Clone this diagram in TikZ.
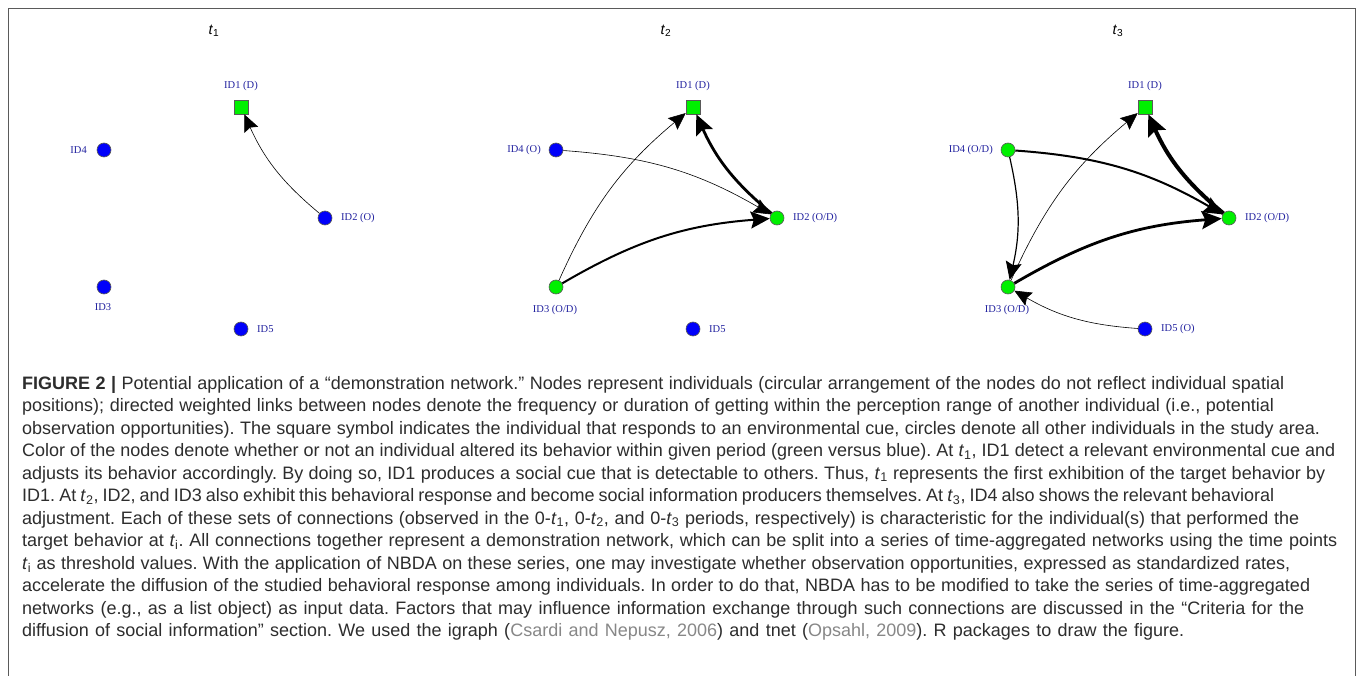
\documentclass[tikz,border=0pt]{standalone}
\usepackage{fontspec}
\setmainfont{Liberation Sans}
\newfontfamily\lblfont{Liberation Serif}
\usetikzlibrary{arrows.meta,positioning,calc}
\definecolor{lblblue}{RGB}{35,35,160}
\definecolor{captxt}{RGB}{45,45,45}
\definecolor{citegray}{RGB}{135,135,135}
\definecolor{ngreen}{RGB}{0,240,0}
\definecolor{nblue}{RGB}{0,0,250}
\definecolor{framegray}{RGB}{90,90,90}
\newcommand{\tsub}[1]{\textit{t}\textsubscript{#1}}
\newcommand{\citeg}[1]{\textcolor{citegray}{#1}}
\newcommand{\capfit}[2]{\makebox[#1pt][s]{#2}}
\frenchspacing
\begin{document}
\begin{tikzpicture}[x=1pt,y=-1pt,
  vc/.style={circle, draw=black!65, line width=0.6pt, minimum size=14pt, inner sep=0pt},
  vb/.style={vc, fill=nblue},
  vg/.style={vc, fill=ngreen},
  vs/.style={rectangle, draw=black!65, line width=0.6pt, minimum size=14pt, inner sep=0pt, fill=ngreen},
  lbl/.style={font=\lblfont\fontsize{10.5}{12}\selectfont, text=lblblue, inner sep=0pt},
  ttl/.style={font=\fontsize{14.5}{16}\selectfont, inner sep=0pt},
  edge/.style={draw=black, bend left=13},
  w1/.style={edge, line width=0.6pt, -{Stealth[length=17pt,width=15pt,inset=2.5pt]}},
  w2/.style={edge, line width=1.2pt, -{Stealth[length=18pt,width=16pt,inset=3pt]}},
  w3/.style={edge, line width=2pt, -{Stealth[length=19pt,width=17pt,inset=3pt]}},
  w4/.style={edge, line width=2.8pt, -{Stealth[length=20pt,width=18pt,inset=3.5pt]}},
  w5/.style={edge, line width=4pt, -{Stealth[length=21pt,width=19pt,inset=3.5pt]}},
  capl/.style={anchor=base west, inner sep=0pt, font=\fontsize{18}{22}\selectfont, text=captxt}
]
\useasboundingbox (0,0) rectangle (1357,676);
\fill[white] (0,0) rectangle (1357,676);
\draw[framegray, line width=1pt] (8,676) -- (8,8.5) -- (1355,8.5) -- (1355,676);

% ---------- panel t1 ----------
\node[ttl] (ta) at (214,31) {\tsub{1}};
\node[vs] (a1) at (241,107) {};
\node[vb] (a2) at (325,218) {};
\node[vb] (a3) at (104,287) {};
\node[vb] (a4) at (104,150) {};
\node[vb] (a5) at (241,329) {};
\node[lbl] (la1) at (241,86) {ID1 (D)};
\node[lbl, anchor=west] (la2) at (341,218) {ID2 (O)};
\node[lbl] (la3) at (103,307) {ID3};
\node[lbl, anchor=east] (la4) at (87,150) {ID4};
\node[lbl, anchor=west] (la5) at (257,329) {ID5};
\draw[w1] (a2) to (a1);

% ---------- panel t2 ----------
\begin{scope}[xshift=452pt]
\node[ttl] (tb) at (214,31) {\tsub{2}};
\node[vs] (b1) at (241,107) {};
\node[vg] (b2) at (325,218) {};
\node[vg] (b3) at (104,287) {};
\node[vb] (b4) at (104,150) {};
\node[vb] (b5) at (241,329) {};
\node[lbl] (lb1) at (241,86) {ID1 (D)};
\node[lbl, anchor=west] (lb2) at (341,218) {ID2 (O/D)};
\node[lbl] (lb3) at (103,310) {ID3 (O/D)};
\node[lbl, anchor=east] (lb4) at (89,150) {ID4 (O)};
\node[lbl, anchor=west] (lb5) at (257,329) {ID5};
\draw[w1] (b4) to (b2);
\draw[w1] (b3) to (b1);
\draw[w3] (b3) to (b2);
\draw[w4] (b2) to (b1);
\end{scope}

% ---------- panel t3 ----------
\begin{scope}[xshift=904pt]
\node[ttl] (tc) at (214,31) {\tsub{3}};
\node[vs] (c1) at (241,107) {};
\node[vg] (c2) at (325,218) {};
\node[vg] (c3) at (104,287) {};
\node[vg] (c4) at (104,150) {};
\node[vb] (c5) at (241,329) {};
\node[lbl] (lc1) at (241,86) {ID1 (D)};
\node[lbl, anchor=west] (lc2) at (341,218) {ID2 (O/D)};
\node[lbl] (lc3) at (103,310) {ID3 (O/D)};
\node[lbl, anchor=east] (lc4) at (89,150) {ID4 (O/D)};
\node[lbl, anchor=west] (lc5) at (257,329) {ID5 (O)};
\draw[w2] (c4) to (c3);
\draw[w1] (c5) to (c3);
\draw[w1] (c3) to (c1);
\draw[w3] (c4) to (c2);
\draw[w4] (c3) to (c2);
\draw[w5] (c2) to (c1);
\end{scope}

% ---------- caption ----------
\node[capl] (l1) at (22,389) {\capfit{1262}{\textbf{FIGURE 2 |} Potential application of a “demonstration network.” Nodes represent individuals (circular arrangement of the nodes do not reflect individual spatial}};
\node[capl] (l2) at (22,411.5) {\capfit{1252}{positions); directed weighted links between nodes denote the frequency or duration of getting within the perception range of another individual (i.e., potential}};
\node[capl] (l3) at (22,434) {\capfit{1298}{observation opportunities). The square symbol indicates the individual that responds to an environmental cue, circles denote all other individuals in the study area.}};
\node[capl] (l4) at (22,456.5) {\capfit{1313}{Color of the nodes denote whether or not an individual altered its behavior within given period (green versus blue). At \tsub{1}, ID1 detect a relevant environmental cue and}};
\node[capl] (l5) at (22,479) {\capfit{1303}{adjusts its behavior accordingly. By doing so, ID1 produces a social cue that is detectable to others. Thus, \tsub{1} represents the first exhibition of the target behavior by}};
\node[capl] (l6) at (22,501.5) {\capfit{1252}{ID1. At \tsub{2}, ID2, and ID3 also exhibit this behavioral response and become social information producers themselves. At \tsub{3}, ID4 also shows the relevant behavioral}};
\node[capl] (l7) at (22,524) {\capfit{1277}{adjustment. Each of these sets of connections (observed in the 0-\tsub{1}, 0-\tsub{2}, and 0-\tsub{3} periods, respectively) is characteristic for the individual(s) that performed the}};
\node[capl] (l8) at (22,546.5) {\capfit{1315}{target behavior at \tsub{i}. All connections together represent a demonstration network, which can be split into a series of time-aggregated networks using the time points}};
\node[capl] (l9) at (22,569) {\capfit{1268}{\tsub{i} as threshold values. With the application of NBDA on these series, one may investigate whether observation opportunities, expressed as standardized rates,}};
\node[capl] (l10) at (22,591.5) {\capfit{1288}{accelerate the diffusion of the studied behavioral response among individuals. In order to do that, NBDA has to be modified to take the series of time-aggregated}};
\node[capl] (l11) at (22,614) {\capfit{1282}{networks (e.g., as a list object) as input data. Factors that may influence information exchange through such connections are discussed in the “Criteria for the}};
\node[capl] (l12) at (22,636.5) {\capfit{1162}{diffusion of social information” section. We used the igraph (\citeg{Csardi and Nepusz, 2006}) and tnet (\citeg{Opsahl, 2009}). R packages to draw the figure.}};
\end{tikzpicture}
\end{document}
